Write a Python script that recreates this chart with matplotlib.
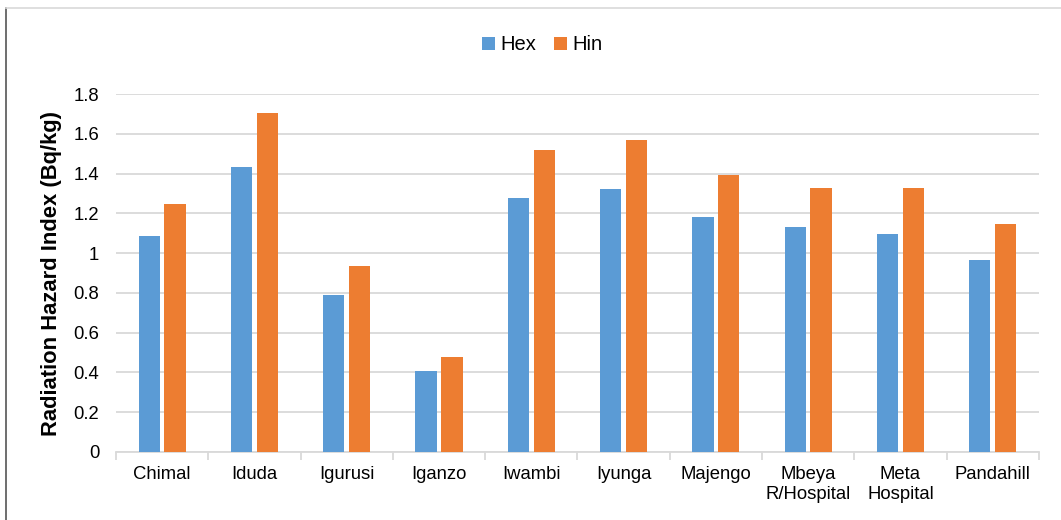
import numpy as np
import matplotlib
matplotlib.use('Agg')
from matplotlib import pyplot as plt
from matplotlib.lines import Line2D

plt.rcParams['font.family'] = ['Liberation Sans', 'DejaVu Sans']

sites = ['Chimal', 'Iduda', 'Igurusi', 'Iganzo', 'Iwambi', 'Iyunga', 'Majengo',
         'Mbeya\nR/Hospital', 'Meta\nHospital', 'Pandahill']
hex_vals = [1.085, 1.433, 0.789, 0.407, 1.277, 1.322, 1.181, 1.131, 1.096, 0.965]
hin_vals = [1.246, 1.704, 0.935, 0.478, 1.518, 1.569, 1.393, 1.327, 1.327, 1.146]

c_hex = '#5b9bd5'
c_hin = '#ed7d31'
grid_c = '#d9d9d9'

fig = plt.figure(figsize=(10.61, 5.2), dpi=100)
ax = fig.add_axes([0.1093, 0.1308, 0.8699, 0.6884])

x = np.arange(len(sites))
w = 0.23
ax.bar(x - 0.14, hex_vals, w, color=c_hex, label='Hex', zorder=3)
ax.bar(x + 0.14, hin_vals, w, color=c_hin, label='Hin', zorder=3)

ax.set_xlim(-0.5, len(sites) - 0.5)
ax.set_ylim(0, 1.8)
ax.set_yticks(np.arange(0, 1.81, 0.2))
ax.set_yticklabels(['0', '0.2', '0.4', '0.6', '0.8', '1', '1.2', '1.4', '1.6', '1.8'])
ax.yaxis.grid(True, color=grid_c, lw=1.3)
ax.set_axisbelow(True)

ax.set_xticks(x)
ax.set_xticklabels(sites, va='top', linespacing=1.25)
ax.set_xticks(np.arange(-0.5, len(sites)), minor=True)
ax.tick_params(axis='x', which='major', length=0, pad=10, labelsize=13.3)
ax.tick_params(axis='x', which='minor', length=6, color=grid_c, width=1.3)
ax.tick_params(axis='y', length=0, pad=12, labelsize=13.3)

for s in ['top', 'right', 'left']:
    ax.spines[s].set_visible(False)
ax.spines['bottom'].set_color(grid_c)
ax.spines['bottom'].set_linewidth(1.3)

ax.set_ylabel('Radiation Hazard Index (Bq/kg)', fontsize=15.8, fontweight='bold', labelpad=8)

ax.legend(loc='center', bbox_to_anchor=(542 / 1061, 1 - 45 / 520), bbox_transform=fig.transFigure,
          ncol=2, frameon=False, fontsize=14.5, handlelength=0.65, handleheight=0.65,
          columnspacing=0.9, handletextpad=0.25)

# chart frame
fig.add_artist(Line2D([6 / 1061, 6 / 1061], [0, 1 - 8 / 520], color='#555555', lw=1.2))
fig.add_artist(Line2D([6 / 1061, 1], [1 - 8 / 520, 1 - 8 / 520], color='#d9d9d9', lw=1.2))

fig.savefig('out.png', dpi=100)
